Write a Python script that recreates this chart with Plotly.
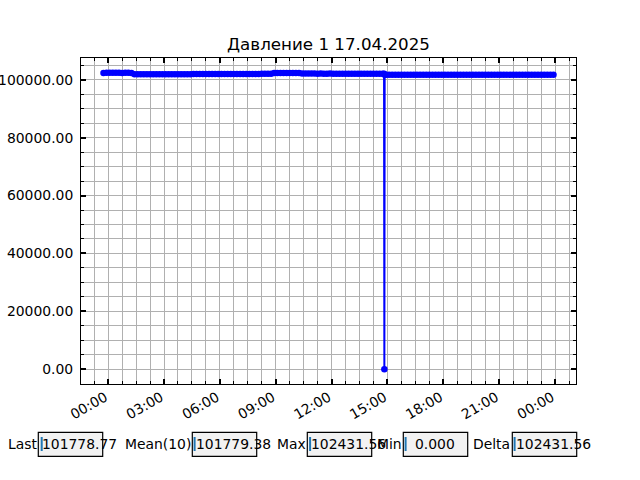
import pandas as pd
import plotly.graph_objects as go

# ---------------- data ----------------
chart_title = "Давление 1 17.04.2025"

pressure_a = [102405.20, 102418.70, 102431.56, 102426.30, 102412.90, 102420.40, 102409.80, 102415.10,
              102423.60, 102411.00]
pressure_b = [101902.4, 101908.1, 101911.7, 101915.3, 101921.8, 101925.2, 101929.6, 101934.0, 101937.5, 101942.8,
              101946.1, 101950.7, 101953.2, 101958.9, 101962.4, 101966.0, 101970.3, 101973.8, 101978.5, 101982.1,
              101986.7, 101990.2, 101993.9, 101998.4, 102002.0, 102006.6, 102010.1, 102013.7, 102018.2, 102021.9,
              102026.5, 102030.0, 102033.8, 102038.1, 102042.6, 102046.0, 102050.4, 102054.9, 102058.3, 102062.7,
              102066.2, 102070.5, 102074.1, 102077.6, 102081.3]
pressure_c = [102372.4, 102378.9, 102385.3, 102381.0, 102376.7, 102383.2, 102379.5, 102374.8, 102380.6]
pressure_d = [102162.3, 102158.7, 102155.1, 102160.4, 102152.8, 102149.3, 102156.0, 102151.7, 102147.2, 102153.9,
              102150.5, 102146.8, 102152.1, 102148.6, 102144.9, 102150.2, 102147.0, 102143.5, 102149.8, 102146.3,
              102142.7, 102148.1, 102144.4, 102140.9, 102146.2, 102142.8, 102139.5, 102141.3]
pressure_dip = [0.0]
pressure_e = [101792.4, 101790.8, 101789.1, 101791.5, 101788.2, 101786.9, 101789.7, 101787.3, 101785.6, 101788.0,
              101786.4, 101784.7, 101787.2, 101785.0, 101783.3, 101785.9, 101784.1, 101782.6, 101785.2, 101783.5,
              101781.8, 101784.3, 101782.7, 101781.0, 101783.6, 101781.9, 101780.4, 101782.8, 101781.2, 101779.6,
              101782.1, 101780.5, 101779.0, 101781.4, 101779.8, 101778.3, 101780.7, 101779.1, 101781.5, 101779.9,
              101778.4, 101780.8, 101779.2, 101781.6, 101780.0, 101778.5,
              101780.12, 101779.85, 101781.04, 101778.36, 101779.92, 101780.47, 101778.95, 101779.63, 101776.69,
              101778.77]

base_times = pd.date_range("2025-04-16 23:45", "2025-04-17 23:55", freq="10min")
extra_times = pd.to_datetime(["2025-04-17 14:49", "2025-04-17 14:50", "2025-04-17 14:51"])
times = base_times.append(extra_times).sort_values()

values = pressure_a + pressure_b + pressure_c + pressure_d + pressure_dip + pressure_e

stat_labels = ["Last", "Mean(10)", "Max", "Min", "Delta"]
v_last = values[-1]
v_mean = sum(values[-10:]) / 10
v_max = max(values)
v_min = min(values)
v_delta = v_max - v_min
stat_texts = [f"{v_last:.2f}", f"{v_mean:.2f}", f"{v_max:.2f}", f"{v_min:.3f}", f"{v_delta:.2f}"]

# ---------------- layout helpers ----------------
W, H = 640, 480
L, R, T, B = 81, 576, 58, 384


def px(x):
    return (x - L) / (R - L)


def py(y):
    return (B - y) / (B - T)


FONT = "DejaVu Sans"
GRID = "#b0b0b0"

tmin, tmax = times.min(), times.max()
span = tmax - tmin
x_range = [tmin - 0.05 * span, tmax + 0.05 * span]
vspan = v_max - v_min
y_range = [v_min - 0.05 * vspan, v_max + 0.05 * vspan]

fig = go.Figure()
fig.add_trace(go.Scatter(
    x=times, y=values, mode="lines+markers",
    line=dict(color="#0000ff", width=2),
    marker=dict(color="#0000ff", size=6.5),
    showlegend=False, hoverinfo="skip",
))

axis_common = dict(
    showline=True, linecolor="black", linewidth=1, mirror="ticks",
    ticks="inside", ticklen=5, tickwidth=1.6, tickcolor="black",
    showgrid=True, gridcolor=GRID, gridwidth=1, zeroline=False,
    tickfont=dict(family=FONT, size=13.9, color="black"),
)

fig.update_xaxes(
    type="date", range=x_range,
    tick0="2025-04-17 00:00", dtick=3 * 3600 * 1000, tickformat="%H:%M", tickangle=-30,
    ticklabelshift=-3, ticklabelstandoff=-1,
    minor=dict(tick0="2025-04-17 00:00", dtick=45 * 60 * 1000, ticks="inside", ticklen=3,
               tickwidth=1, tickcolor="black", showgrid=True, gridcolor=GRID, gridwidth=1),
    **axis_common,
)
fig.update_yaxes(
    range=y_range, tick0=0, dtick=20000, tickformat=".2f", ticklabelstandoff=4,
    minor=dict(tick0=0, dtick=5000, ticks="inside", ticklen=3,
               tickwidth=1, tickcolor="black", showgrid=True, gridcolor=GRID, gridwidth=1),
    **axis_common,
)

# ---------------- stat boxes (positions in reference pixels) ----------------
label_right = [37, 190.5, 305.5, 401.5, 509.5]
box_left = [38.3, 192.3, 307.3, 403.3, 512.3]
box_w = 64.4
text_left = [42, 195.5, 311, 414.5, 516]
cursor_x = [41.7, 194.6, 310.1, 405.6, 514.6]
box_top, box_bot = 432.3, 456.3
text_y = 444

shapes = []
annotations = []
for i in range(5):
    shapes.append(dict(type="rect", xref="paper", yref="paper",
                       x0=px(box_left[i]), x1=px(box_left[i] + box_w),
                       y0=py(box_bot), y1=py(box_top),
                       line=dict(color="black", width=1.2), fillcolor="#f2f2f2", layer="above"))
    shapes.append(dict(type="line", xref="paper", yref="paper",
                       x0=px(cursor_x[i]), x1=px(cursor_x[i]),
                       y0=py(451), y1=py(437),
                       line=dict(color="#1f77b4", width=2), layer="above"))
    annotations.append(dict(text=stat_labels[i], xref="paper", yref="paper",
                            x=px(label_right[i]), y=py(text_y), xanchor="right", yanchor="middle",
                            showarrow=False, borderpad=0, borderwidth=0,
                            font=dict(family=FONT, size=13.9, color="black")))
    annotations.append(dict(text=stat_texts[i], xref="paper", yref="paper",
                            x=px(text_left[i]), y=py(text_y), xanchor="left", yanchor="middle",
                            showarrow=False, borderpad=0, borderwidth=0,
                            font=dict(family=FONT, size=13.9, color="black")))

fig.update_layout(
    width=W, height=H,
    margin=dict(l=L, r=W - R, t=T, b=H - B, pad=0),
    paper_bgcolor="white", plot_bgcolor="white",
    template="none",
    title=dict(text=chart_title, x=0.5, xref="paper", xanchor="center",
               y=1 - 44.5 / H, yref="container", yanchor="middle",
               font=dict(family=FONT, size=16.7, color="black")),
    shapes=shapes, annotations=annotations,
)

fig.write_html("out.html", config={"displayModeBar": False},
               post_script="document.body.style.margin='0';")
